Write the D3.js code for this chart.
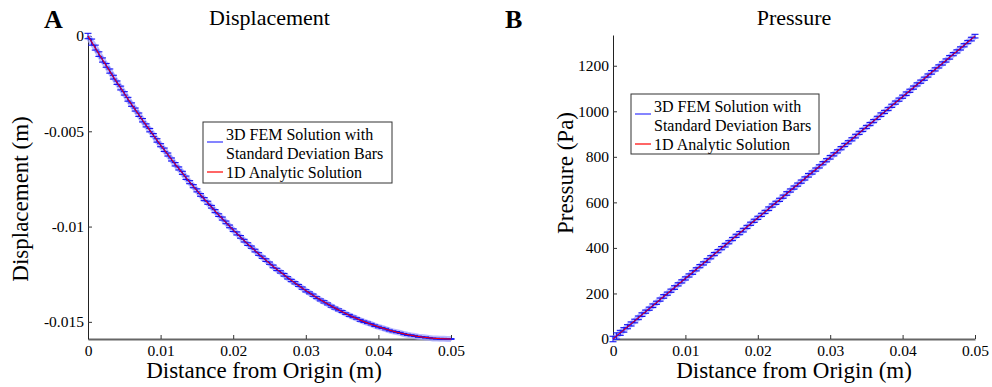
<!DOCTYPE html>
<html>
<head>
<meta charset="utf-8">
<script src="https://cdn.jsdelivr.net/npm/d3@7"></script>
<style>
  body { margin: 0; background: #fff; }
  svg { display: block; }
  text { font-family: "Liberation Serif", "Times New Roman", serif; fill: #000; }
</style>
</head>
<body>
<svg id="chart" width="992" height="387"></svg>
<script>
// ---- data ----
const femX = [0, 0.0005, 0.001, 0.0015, 0.002, 0.0025, 0.003, 0.0035, 0.004, 0.0045,
  0.005, 0.0055, 0.006, 0.0065, 0.007, 0.0075, 0.008, 0.0085, 0.009, 0.0095,
  0.010, 0.0105, 0.011, 0.0115, 0.012, 0.0125, 0.013, 0.0135, 0.014, 0.0145,
  0.015, 0.0155, 0.016, 0.0165, 0.017, 0.0175, 0.018, 0.0185, 0.019, 0.0195,
  0.020, 0.0205, 0.021, 0.0215, 0.022, 0.0225, 0.023, 0.0235, 0.024, 0.0245,
  0.025, 0.0255, 0.026, 0.0265, 0.027, 0.0275, 0.028, 0.0285, 0.029, 0.0295,
  0.030, 0.0305, 0.031, 0.0315, 0.032, 0.0325, 0.033, 0.0335, 0.034, 0.0345,
  0.035, 0.0355, 0.036, 0.0365, 0.037, 0.0375, 0.038, 0.0385, 0.039, 0.0395,
  0.040, 0.0405, 0.041, 0.0415, 0.042, 0.0425, 0.043, 0.0435, 0.044, 0.0445,
  0.045, 0.0455, 0.046, 0.0465, 0.047, 0.0475, 0.048, 0.0485, 0.049, 0.0495,
  0.050];

// displacement (m), 3D FEM mean and std dev
const femDisp = [0, -0.00032, -0.00061, -0.00095, -0.00126, -0.00154, -0.00184, -0.00216, -0.00245, -0.00273,
  -0.00301, -0.00332, -0.00360, -0.00386, -0.00413, -0.00442, -0.00469, -0.00494, -0.00520, -0.00548,
  -0.00573, -0.00597, -0.00622, -0.00648, -0.00673, -0.00695, -0.00718, -0.00744, -0.00767, -0.00788,
  -0.00810, -0.00834, -0.00856, -0.00875, -0.00896, -0.00919, -0.00940, -0.00958, -0.00978, -0.00999,
  -0.01019, -0.01036, -0.01054, -0.01074, -0.01092, -0.01108, -0.01126, -0.01144, -0.01161, -0.01176,
  -0.01192, -0.01209, -0.01225, -0.01238, -0.01253, -0.01269, -0.01283, -0.01295, -0.01309, -0.01323,
  -0.01337, -0.01348, -0.01360, -0.01373, -0.01385, -0.01395, -0.01406, -0.01418, -0.01428, -0.01437,
  -0.01446, -0.01457, -0.01466, -0.01474, -0.01482, -0.01492, -0.01499, -0.01505, -0.01512, -0.01520,
  -0.01527, -0.01532, -0.01538, -0.01545, -0.01550, -0.01554, -0.01558, -0.01564, -0.01568, -0.01571,
  -0.01574, -0.01578, -0.01580, -0.01582, -0.01584, -0.01587, -0.01588, -0.01589, -0.01589, -0.01590,
  -0.01590];
const femDispSd = [0.00014, 0.00016, 0.00013, 0.00012, 0.00011, 0.00010, 0.00011, 0.00010, 0.00009, 0.00010,
  0.00009, 0.00010, 0.00009, 0.00008, 0.00009, 0.00009, 0.00008, 0.00009, 0.00008, 0.00009,
  0.00008, 0.00009, 0.00008, 0.00008, 0.00009, 0.00008, 0.00008, 0.00009, 0.00008, 0.00008,
  0.00008, 0.00007, 0.00008, 0.00008, 0.00007, 0.00008, 0.00007, 0.00008, 0.00007, 0.00007,
  0.00007, 0.00008, 0.00007, 0.00007, 0.00007, 0.00006, 0.00007, 0.00007, 0.00006, 0.00007,
  0.00006, 0.00007, 0.00006, 0.00006, 0.00007, 0.00006, 0.00006, 0.00006, 0.00005, 0.00006,
  0.00006, 0.00005, 0.00006, 0.00005, 0.00005, 0.00006, 0.00005, 0.00005, 0.00005, 0.00005,
  0.00005, 0.00004, 0.00005, 0.00004, 0.00004, 0.00005, 0.00004, 0.00004, 0.00004, 0.00004,
  0.00004, 0.00003, 0.00004, 0.00003, 0.00003, 0.00003, 0.00003, 0.00003, 0.00003, 0.00003,
  0.00003, 0.00003, 0.00002, 0.00003, 0.00002, 0.00002, 0.00002, 0.00002, 0.00002, 0.00002,
  0.00002];

// pressure (Pa), 3D FEM mean and std dev
const femPres = [0, 13, 27, 40, 54, 66, 79, 93, 107, 120,
  133, 146, 159, 173, 187, 199, 212, 226, 240, 253,
  266, 279, 292, 306, 320, 332, 345, 359, 373, 386,
  399, 412, 425, 439, 453, 465, 478, 492, 506, 519,
  532, 545, 558, 572, 586, 598, 611, 625, 639, 652,
  665, 678, 691, 705, 719, 731, 744, 758, 772, 785,
  798, 811, 824, 838, 852, 864, 877, 891, 905, 918,
  931, 944, 957, 971, 985, 997, 1010, 1024, 1038, 1051,
  1064, 1077, 1090, 1104, 1118, 1130, 1143, 1157, 1171, 1184,
  1197, 1210, 1223, 1237, 1251, 1263, 1276, 1290, 1304, 1317,
  1330];
const femPresSd = [12, 14, 11, 10, 9, 9, 8, 8, 8, 7,
  7, 8, 7, 7, 8, 7, 7, 8, 7, 7,
  7, 7, 8, 7, 7, 7, 8, 7, 7, 7,
  7, 8, 7, 7, 7, 7, 8, 7, 7, 7,
  7, 7, 7, 8, 7, 7, 7, 7, 8, 7,
  7, 7, 7, 7, 8, 7, 7, 7, 7, 7,
  8, 7, 7, 7, 7, 7, 7, 8, 7, 7,
  7, 7, 7, 7, 8, 7, 7, 7, 7, 7,
  7, 8, 7, 7, 7, 7, 7, 7, 8, 7,
  7, 7, 7, 8, 7, 7, 7, 7, 7, 8,
  8];

// 1D analytic solution
const anaX = [0, 0.0025, 0.005, 0.0075, 0.01, 0.0125, 0.015, 0.0175, 0.02, 0.0225,
  0.025, 0.0275, 0.03, 0.0325, 0.035, 0.0375, 0.04, 0.0425, 0.045, 0.0475, 0.05];
const anaDisp = [0, -0.00155, -0.00302, -0.00441, -0.00572, -0.00696, -0.00811, -0.00918, -0.01018, -0.01109,
  -0.01193, -0.01268, -0.01336, -0.01395, -0.01447, -0.01491, -0.01526, -0.01554, -0.01574, -0.01586, -0.0159];
const anaPres = [0, 66.5, 133, 199.5, 266, 332.5, 399, 465.5, 532, 598.5,
  665, 731.5, 798, 864.5, 931, 997.5, 1064, 1130.5, 1197, 1263.5, 1330];

const xTicks = [0, 0.01, 0.02, 0.03, 0.04, 0.05];
const xTickLabels = ["0", "0.01", "0.02", "0.03", "0.04", "0.05"];
const dispTicks = [-0.015, -0.01, -0.005, 0];
const dispTickLabels = ["-0.015", "-0.01", "-0.005", "0"];
const presTicks = [0, 200, 400, 600, 800, 1000, 1200];
const presTickLabels = ["0", "200", "400", "600", "800", "1000", "1200"];
const legendLabels = [["3D FEM Solution with", "Standard Deviation Bars"], ["1D Analytic Solution"]];

const svg = d3.select("#chart");
svg.append("rect").attr("width", 992).attr("height", 387).attr("fill", "#fff");

function drawPanel(p) {
  const x = d3.scaleLinear().domain([0, 0.05]).range([p.left, p.right]);
  const y = d3.scaleLinear().domain(p.yDomain).range([p.bottom, p.top]);
  const g = svg.append("g");

  // axes (ticks point inward, like matlab)
  const xAxis = g.append("g")
    .attr("transform", "translate(0," + p.bottom + ")")
    .call(d3.axisBottom(x).tickValues(xTicks)
      .tickFormat((d, i) => xTickLabels[i]).tickSizeInner(-4).tickSizeOuter(0).tickPadding(6));
  xAxis.select(".domain").attr("stroke", "#666").attr("stroke-width", 2);
  xAxis.selectAll(".tick line").attr("stroke", "#333");
  xAxis.selectAll("text").style("font-size", "15.5px").attr("fill", "#111");

  const yAxis = g.append("g")
    .attr("transform", "translate(" + p.left + ",0)")
    .call(d3.axisLeft(y).tickValues(p.yTicks)
      .tickFormat((d, i) => p.yTickLabels[i]).tickSizeInner(-4).tickSizeOuter(0).tickPadding(4));
  yAxis.select(".domain").attr("stroke", "#222");
  yAxis.selectAll(".tick line").attr("stroke", "#333");
  yAxis.selectAll("text").style("font-size", "15.5px").attr("fill", "#111");

  // FEM series: halo, error bars, mean line
  const pts = femX.map((d, i) => ({ x: d, v: p.fem[i], sd: p.femSd[i] }));
  const line = d3.line().x(d => x(d.x)).y(d => y(d.v));
  g.append("path").datum(pts)
    .attr("d", line).attr("fill", "none")
    .attr("stroke", "#a4a4ff").attr("stroke-width", 6).attr("stroke-opacity", 0.75);

  const bars = g.append("g").attr("stroke", "#1414f5").attr("stroke-width", 1.1);
  bars.selectAll(".eb").data(pts).enter().append("line")
    .attr("x1", d => x(d.x)).attr("x2", d => x(d.x))
    .attr("y1", d => y(d.v - d.sd)).attr("y2", d => y(d.v + d.sd));
  bars.selectAll(".cap-lo").data(pts).enter().append("line")
    .attr("x1", d => x(d.x) - 3.5).attr("x2", d => x(d.x) + 3.5)
    .attr("y1", d => y(d.v - d.sd)).attr("y2", d => y(d.v - d.sd));
  bars.selectAll(".cap-hi").data(pts).enter().append("line")
    .attr("x1", d => x(d.x) - 3.5).attr("x2", d => x(d.x) + 3.5)
    .attr("y1", d => y(d.v + d.sd)).attr("y2", d => y(d.v + d.sd));

  g.append("path").datum(pts)
    .attr("d", line).attr("fill", "none")
    .attr("stroke", "#0000ff").attr("stroke-width", 1.2);

  // analytic solution
  const ana = anaX.map((d, i) => ({ x: d, v: p.ana[i] }));
  g.append("path").datum(ana)
    .attr("d", d3.line().x(d => x(d.x)).y(d => y(d.v)).curve(d3.curveMonotoneX))
    .attr("fill", "none").attr("stroke", "#ff0000").attr("stroke-width", 1);

  // titles and labels
  g.append("text").attr("x", (p.left + p.right) / 2).attr("y", 25)
    .attr("text-anchor", "middle").style("font-size", "22px").text(p.title);
  g.append("text").attr("x", p.letterX).attr("y", 28)
    .style("font-size", "26px").style("font-weight", "bold").text(p.letter);
  g.append("text").attr("x", p.xLabelX).attr("y", 378)
    .attr("text-anchor", "middle").style("font-size", "23px").text("Distance from Origin (m)");
  g.append("text")
    .attr("transform", "translate(" + p.yLabelX + "," + p.yLabelY + ") rotate(-90)")
    .attr("text-anchor", "middle").style("font-size", "23px").text(p.yLabel);

  // legend
  const L = p.legend;
  g.append("rect").attr("x", L.x).attr("y", L.y).attr("width", L.w).attr("height", L.h)
    .attr("fill", "#fff").attr("stroke", "#333");
  const baselines = [L.y + 18, L.y + 36.5, L.y + 55.5];
  g.append("text").attr("x", L.x + 23).attr("y", baselines[0]).style("font-size", "16px").text(legendLabels[0][0]);
  g.append("text").attr("x", L.x + 23).attr("y", baselines[1]).style("font-size", "16px").text(legendLabels[0][1]);
  g.append("text").attr("x", L.x + 23).attr("y", baselines[2]).style("font-size", "16px").text(legendLabels[1][0]);
  g.append("line").attr("x1", L.x + 4).attr("x2", L.x + 20).attr("y1", L.y + 20).attr("y2", L.y + 20)
    .attr("stroke", "#3333ff").attr("stroke-width", 1.2);
  g.append("line").attr("x1", L.x + 4).attr("x2", L.x + 20).attr("y1", L.y + 50).attr("y2", L.y + 50)
    .attr("stroke", "#ff0000").attr("stroke-width", 1.2);
}

drawPanel({
  left: 88, right: 451, top: 36, bottom: 339,
  yDomain: [-0.0159, 0], yTicks: dispTicks, yTickLabels: dispTickLabels,
  fem: femDisp, femSd: femDispSd, ana: anaDisp,
  title: "Displacement", letter: "A", letterX: 44, xLabelX: 264,
  yLabel: "Displacement (m)", yLabelX: 28, yLabelY: 199,
  legend: { x: 203, y: 122, w: 189, h: 61 }
});

drawPanel({
  left: 613, right: 975, top: 35, bottom: 339,
  yDomain: [0, 1335], yTicks: presTicks, yTickLabels: presTickLabels,
  fem: femPres, femSd: femPresSd, ana: anaPres,
  title: "Pressure", letter: "B", letterX: 505, xLabelX: 794,
  yLabel: "Pressure (Pa)", yLabelX: 573, yLabelY: 173,
  legend: { x: 631, y: 94, w: 188, h: 60 }
});

// the axis groups carry font-family="sans-serif"; force the serif face everywhere
svg.selectAll("text").style("font-family", "'Liberation Serif', 'Times New Roman', serif");
</script>
</body>
</html>
